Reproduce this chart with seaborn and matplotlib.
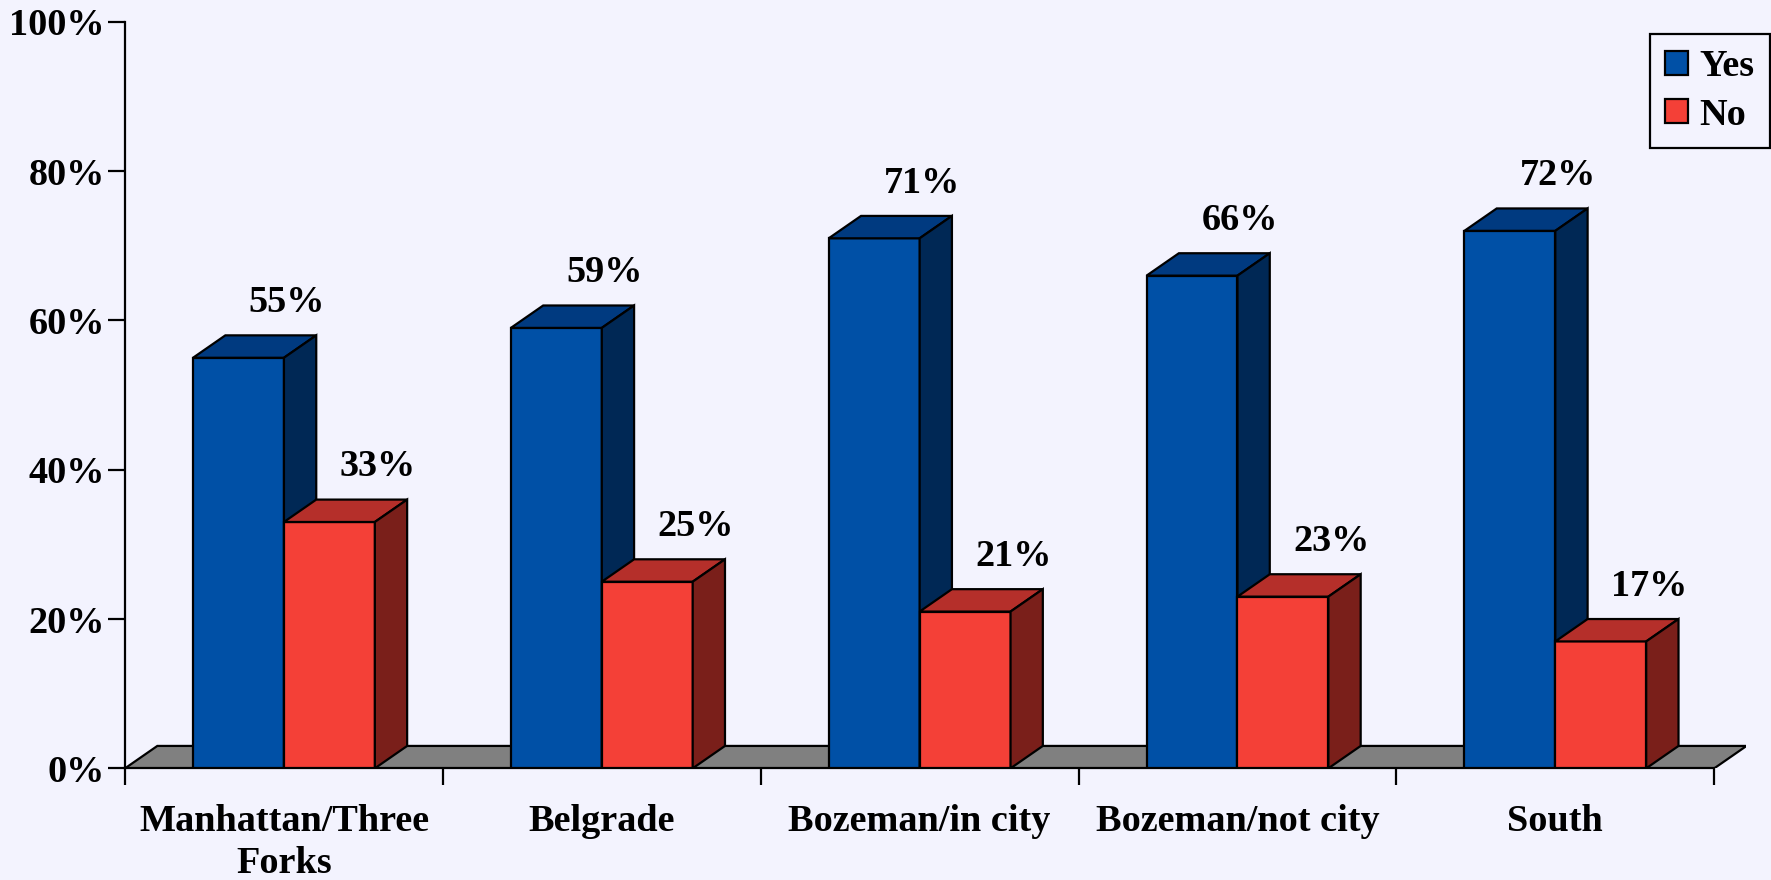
import pandas as pd
import matplotlib.pyplot as plt
import seaborn as sns
from matplotlib.patches import Polygon, Patch
from matplotlib.ticker import FixedLocator

regions = ["Manhattan/Three\nForks", "Belgrade", "Bozeman/in city", "Bozeman/not city", "South"]
yes_pct = [55, 59, 71, 66, 72]
no_pct = [33, 25, 21, 23, 17]
answers = ["Yes", "No"]

bg = "#F3F3FE"
front = {"Yes": "#0050A6", "No": "#F44037"}
top = {"Yes": "#003A80", "No": "#B52F2A"}
side = {"Yes": "#002855", "No": "#7A1F1A"}

df = pd.DataFrame({
    "region": regions * 2,
    "pct": yes_pct + no_pct,
    "answer": ["Yes"] * len(regions) + ["No"] * len(regions),
})

sns.set_style("white")
plt.rcParams["font.family"] = ["Liberation Serif", "DejaVu Serif"]
plt.rcParams["font.weight"] = "bold"
plt.rcParams["text.color"] = "black"
plt.rcParams["xtick.color"] = "black"
plt.rcParams["ytick.color"] = "black"
plt.rcParams["axes.edgecolor"] = "black"

fig = plt.figure(figsize=(17.71, 8.80), dpi=100, facecolor=bg)
ax = fig.add_axes([0.0706, 0.1269, 0.9153, 0.8483], facecolor=bg)

sns.barplot(data=df, x="region", y="pct", hue="answer", hue_order=answers,
            palette=[front[a] for a in answers], width=0.572,
            edgecolor="black", linewidth=1.6, saturation=1, legend=False, ax=ax)

ax.set_xlim(-0.5, 4.6)
ax.set_ylim(0, 100)

# fake 3D depth (in data units)
dx, dy = 0.1016, 3.0

# floor
n = len(regions)
floor = Polygon([(-0.5, 0), (n - 0.5, 0), (n - 0.5 + dx, dy), (-0.5 + dx, dy)],
                closed=True, facecolor="#808080", edgecolor="black", lw=1.6, zorder=1)
ax.add_patch(floor)

for j, (ans, cont) in enumerate(zip(answers, ax.containers)):
    for bar in cont:
        x0 = bar.get_x()
        w = bar.get_width()
        h = bar.get_height()
        x1 = x0 + w
        bar.set_zorder(3 + 2 * j)
        topface = Polygon([(x0, h), (x1, h), (x1 + dx, h + dy), (x0 + dx, h + dy)],
                          closed=True, facecolor=top[ans], edgecolor="black", lw=1.6,
                          zorder=4 + 2 * j)
        sideface = Polygon([(x1, 0), (x1 + dx, dy), (x1 + dx, h + dy), (x1, h)],
                           closed=True, facecolor=side[ans], edgecolor="black", lw=1.6,
                           zorder=4 + 2 * j)
        ax.add_patch(topface)
        ax.add_patch(sideface)
        ax.text(x0 + w / 2 + dx + 0.05, h + dy + 3.1, f"{h:.0f}%", ha="center",
                va="baseline", fontsize=27.5, fontweight="bold", color="black", zorder=10)

# axes styling
for s in ["top", "right"]:
    ax.spines[s].set_visible(False)
ax.spines["left"].set_linewidth(1.6)
ax.spines["bottom"].set_linewidth(1.6)
ax.spines["bottom"].set_bounds(-0.5, n - 0.5)
ax.spines["left"].set_bounds(0, 100)

ax.set_yticks(range(0, 101, 20))
ax.set_yticklabels([f"{v}%" for v in range(0, 101, 20)], fontsize=27.5, fontweight="bold")
ax.tick_params(axis="y", left=True, direction="out", length=12, width=1.6, pad=2.5, color="black")

ax.xaxis.set_minor_locator(FixedLocator([i - 0.5 for i in range(n + 1)]))
ax.tick_params(axis="x", which="minor", bottom=True, direction="out", length=12, width=1.6, color="black")
ax.tick_params(axis="x", which="major", bottom=True, length=0, pad=26)
ax.set_xticks(range(n))
ax.set_xticklabels(regions, fontsize=27.5, fontweight="bold", linespacing=1.25)
ax.set_xlabel("")
ax.set_ylabel("")

handles = [Patch(facecolor=front[a], edgecolor="black", lw=1.6, label=a) for a in answers]
leg = ax.legend(handles=handles, loc="upper right", bbox_to_anchor=(0.9994, 0.9614),
                bbox_transform=fig.transFigure, borderaxespad=0,
                handlelength=0.6, handleheight=0.6, handletextpad=0.3,
                borderpad=0.4, labelspacing=0.35, fancybox=False, framealpha=1,
                prop={"weight": "bold", "size": 27.5})
leg.get_frame().set_edgecolor("black")
leg.get_frame().set_linewidth(1.6)
leg.get_frame().set_facecolor(bg)

fig.savefig("out.png", dpi=100, facecolor=bg)
